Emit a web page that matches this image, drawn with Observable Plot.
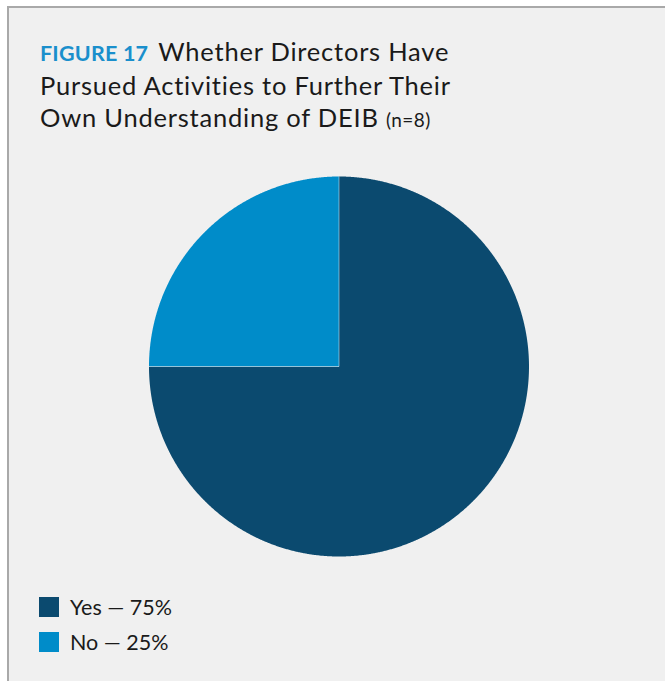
<!DOCTYPE html>
<html>
<head>
<meta charset="utf-8">
<script src="https://cdn.jsdelivr.net/npm/d3@7"></script>
<script src="https://cdn.jsdelivr.net/npm/@observablehq/plot@0.6"></script>
<style>
  html, body { margin: 0; padding: 0; background: #ffffff; width: 665px; height: 681px; overflow: hidden; }
  #frame { position: absolute; left: 7px; top: 6px; width: 658px; height: 675px; background: #f0f0f0;
           border-top: 2px solid #a9a9a9; border-left: 2px solid #a9a9a9; box-sizing: border-box; }
  #title { position: absolute; left: 40px; top: 35px; font-family: Lato, sans-serif; font-size: 25.5px; letter-spacing: 0.78px; line-height: 32px; color: #1a1a1a; white-space: nowrap; }
  #title .fig { color: #1a8fcc; font-weight: bold; font-size: 21.5px; letter-spacing: 0.2px; margin-right: 3px; }
  #title .n { font-size: 19px; letter-spacing: 0.4px; }
  #chart { position: absolute; left: 0; top: 150px; }
  #legend { position: absolute; left: 39px; top: 589.5px; font-family: Lato, sans-serif; font-size: 21.5px; color: #1a1a1a; }
  .item { display: flex; align-items: center; height: 35px; }
  .sw { width: 20px; height: 20px; margin-right: 11px; }
</style>
</head>
<body>
<div id="frame"></div>
<div id="title"><span class="fig">FIGURE 17</span> Whether Directors Have<br>Pursued Activities to Further Their<br>Own Understanding of DEIB <span class="n">(n=8)</span></div>
<div id="chart"></div>
<div id="legend"></div>
<script>
const categories = ["Yes", "No"];
const values = [75, 25];
const colors = ["#0b4a6f", "#008cc9"];

const pie = d3.pie().sort(null).value(d => d.value)(categories.map((c, i) => ({cat: c, value: values[i], color: colors[i]})));

// polygon outlines of the slices, built from pie angles (unit circle)
const step = Math.PI / 720;
const slicePts = pie.map(a => {
  const pts = [{x: 0, y: 0}];
  const n = Math.max(2, Math.ceil((a.endAngle - a.startAngle) / step));
  for (let k = 0; k <= n; k++) {
    const t = a.startAngle + (a.endAngle - a.startAngle) * k / n;
    pts.push({x: Math.sin(t), y: Math.cos(t)});
  }
  pts.push({x: 0, y: 0});
  return {cat: a.data.cat, color: a.data.color, pts};
});
const edges = pie.map(a => ({x1: 0, y1: 0, x2: Math.sin(a.startAngle), y2: Math.cos(a.startAngle)}));

const cx = 338.5, cy = 216, r = 190;
const plot = Plot.plot({
  width: 665,
  height: 420,
  margin: 0,
  style: {background: "transparent", overflow: "visible"},
  x: {domain: [-1, 1], range: [cx - r, cx + r], axis: null},
  y: {domain: [-1, 1], range: [cy + r, cy - r], axis: null},
  marks: [
    ...slicePts.map(s => Plot.line(s.pts, {x: "x", y: "y", fill: s.color, stroke: "none", curve: "linear"})),
    Plot.link(edges, {x1: "x1", y1: "y1", x2: "x2", y2: "y2", stroke: "#ffffff", strokeOpacity: 0.45, strokeWidth: 1})
  ]
});
document.getElementById("chart").appendChild(plot);

const legend = document.getElementById("legend");
categories.forEach((c, i) => {
  const row = document.createElement("div");
  row.className = "item";
  row.innerHTML = `<div class="sw" style="background:${colors[i]}"></div><span>${c} — ${values[i]}%</span>`;
  legend.appendChild(row);
});
</script>
</body>
</html>
